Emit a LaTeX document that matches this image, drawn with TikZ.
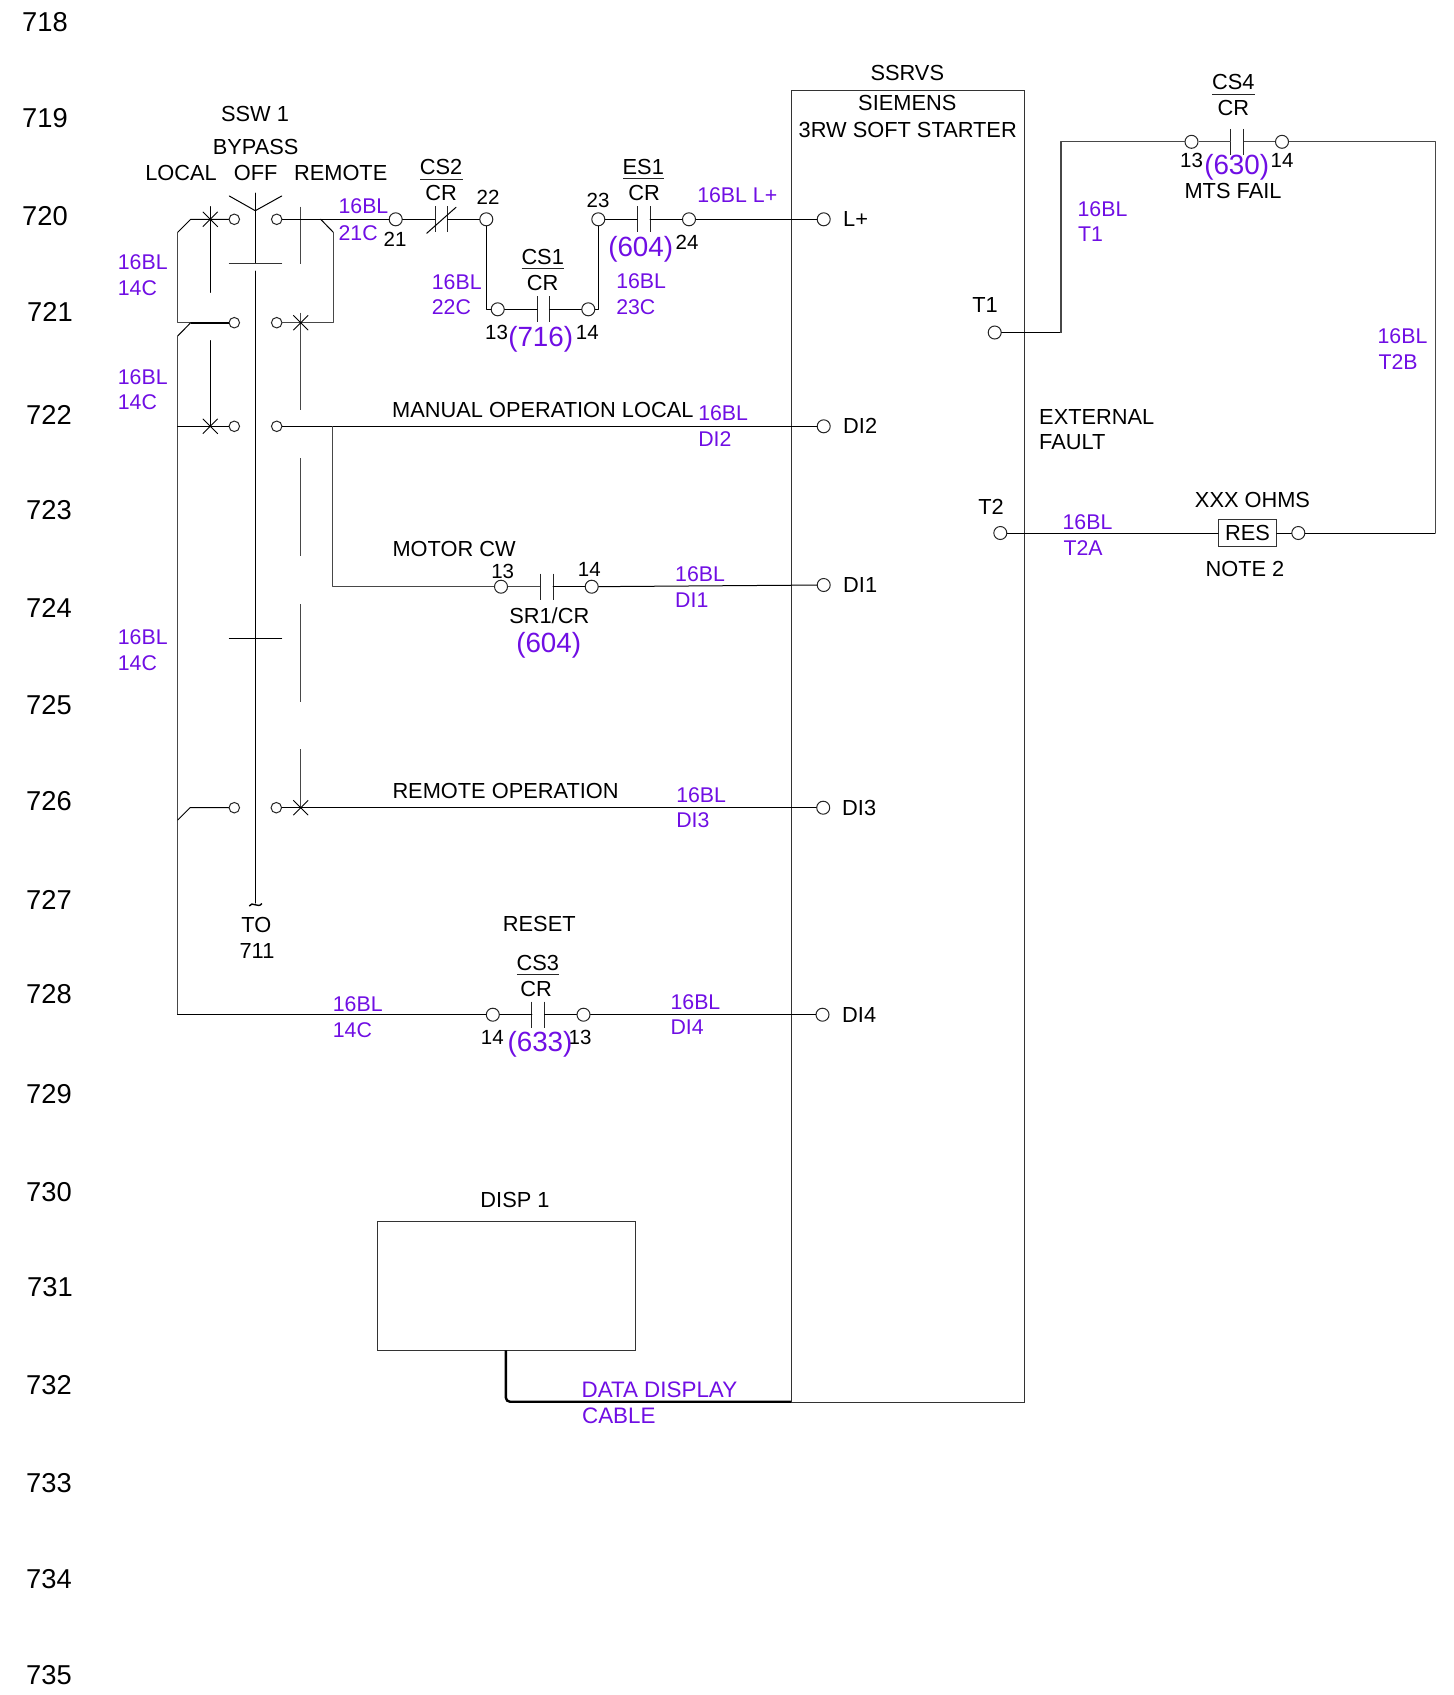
\documentclass[tikz,border=0pt]{standalone}
\usepackage{fontspec}
\setmainfont{Liberation Sans}
\usetikzlibrary{shapes.misc}
\definecolor{wirepurple}{RGB}{112,14,228}
\tikzset{
  wire/.style={line width=1pt,black,line cap=round,line join=round},
  graywire/.style={line width=1.3pt,black!72,line join=round},
  thin bar/.style={line width=1pt,black!85},
  term/.style={circle,draw=black!85,line width=1pt,fill=white,inner sep=0pt,minimum size=10.5pt},
  bigterm/.style={term,minimum size=13pt},
  xmark/.style={cross out,draw=black,line width=.9pt,inner sep=0pt,minimum size=14pt},
  blk/.style={inner sep=0pt,yshift=.1pt,font=\fontsize{21.8}{25}\selectfont,text=black},
  num/.style={inner sep=0pt,yshift=-.2pt,font=\fontsize{20.5}{23}\selectfont,text=black},
  rownum/.style={inner sep=0pt,yshift=0pt,font=\fontsize{27.3}{30}\selectfont,text=black},
  pur/.style={inner sep=0pt,anchor=west,xshift=-.6pt,yshift=-.1pt,font=\fontsize{21.3}{25}\selectfont,text=wirepurple},
  ref/.style={inner sep=0pt,yshift=.2pt,font=\fontsize{27.8}{30}\selectfont,text=wirepurple},
  boxframe/.style={draw=black!80,line width=1.1pt},
}
\newcommand{\contact}[4]{%
  \coordinate (#1-a) at (#2,#4);
  \coordinate (#1-b) at (#3,#4);
  \draw[thin bar] (#2,#4-13) -- (#2,#4+13);
  \draw[thin bar] (#3,#4-13) -- (#3,#4+13);
}
\begin{document}
\begin{tikzpicture}[x=1pt,y=-1pt]
\useasboundingbox (0,0) rectangle (1454,1695);
\fill[white] (0,0) rectangle (1454,1695);

% row numbers
\node[rownum] (r718) at (45,22) {718};
\node[rownum] (r719) at (45,118) {719};
\node[rownum] (r720) at (45,216) {720};
\node[rownum] (r721) at (50,312) {721};
\node[rownum] (r722) at (49,415) {722};
\node[rownum] (r723) at (49,510) {723};
\node[rownum] (r724) at (49,607.5) {724};
\node[rownum] (r725) at (49,705) {725};
\node[rownum] (r726) at (49,801) {726};
\node[rownum] (r727) at (49,899.5) {727};
\node[rownum] (r728) at (49,994.5) {728};
\node[rownum] (r729) at (49,1094) {729};
\node[rownum] (r730) at (49,1192.5) {730};
\node[rownum] (r731) at (50,1287.5) {731};
\node[rownum] (r732) at (49,1385) {732};
\node[rownum] (r733) at (49,1483) {733};
\node[rownum] (r734) at (49,1579) {734};
\node[rownum] (r735) at (49,1675.5) {735};

% soft starter and display boxes
\node[boxframe,inner sep=0pt,minimum width=233pt,minimum height=1311.7pt,anchor=north west] (starter) at (791,90) {};
\node[boxframe,inner sep=0pt,minimum width=258.6pt,minimum height=129.3pt,anchor=north west] (disp) at (376.7,1221) {};

% terminals
\node[term] (s1l) at (234.3,219.3) {};
\node[term] (s2l) at (234.3,322.7) {};
\node[term] (s3l) at (234.3,426.3) {};
\node[term] (s4l) at (234.3,807.7) {};
\node[term] (s1r) at (276.7,219.3) {};
\node[term] (s2r) at (276.7,322.7) {};
\node[term] (s3r) at (276.7,426.3) {};
\node[term] (s4r) at (276.3,807.7) {};

\node[bigterm] (n21) at (395.7,219.3) {};
\node[bigterm] (n22) at (486.3,219.3) {};
\node[bigterm] (n13a) at (497.7,309.3) {};
\node[bigterm] (n14a) at (588.3,309.3) {};
\node[bigterm] (n23) at (598.3,219.3) {};
\node[bigterm] (n24) at (689,219.3) {};
\node[bigterm] (n13b) at (501,586.7) {};
\node[bigterm] (n14b) at (591.7,586.7) {};
\node[bigterm] (n14c) at (492.8,1014.7) {};
\node[bigterm] (n13c) at (583.5,1014.7) {};
\node[bigterm] (n13d) at (1191.5,141.8) {};
\node[bigterm] (n14d) at (1282,141.8) {};
\node[bigterm] (nres) at (1298.3,533) {};
\node[bigterm] (tLp) at (823.7,219.3) {};
\node[bigterm] (tDI2) at (823.7,426.3) {};
\node[bigterm] (tDI1) at (823.7,585) {};
\node[bigterm] (tDI3) at (823.2,807.7) {};
\node[bigterm] (tDI4) at (822.5,1014.7) {};
\node[bigterm] (tT1) at (994.7,332.5) {};
\node[bigterm] (tT2) at (1000.3,533) {};

% resistor
\node[draw=black!80,line width=1.1pt,inner sep=0pt,minimum width=57.6pt,minimum height=26.4pt,font=\fontsize{21.8}{25}\selectfont] (res) at (1247.5,533) {RES};

% selector switch shaft and cams
\coordinate (shA) at (255.3,193);
\coordinate (shB) at (255.3,263.3);
\coordinate (shC) at (255.3,271);
\coordinate (shD) at (255.3,903);
\draw[wire] (shA) -- (shB);
\draw[wire] (shC) -- (shD);
\draw[wire] (229.3,196) -- (255.3,210.7) -- (281.7,196);
\draw[wire,black!80] (229.3,263.3) -- (281.7,263.3);
\draw[wire] (229.3,638.3) -- (281.7,638.3);
\draw[line width=1.4pt,black] (249.3,906) .. controls (252,900.5) and (258,909) .. (262,903.5);

% left dashed contact bars
\draw[wire] (210.3,206.7) -- (210.3,292.3);
\draw[wire] (210.3,340.7) -- (210.3,426.3);
\draw[graywire] (300.7,206.7) -- (300.7,264.3);
\draw[graywire] (300.7,312.7) -- (300.7,410);
\draw[graywire] (300.7,458.3) -- (300.7,555.7);
\draw[graywire] (300.7,604) -- (300.7,701.7);
\draw[graywire] (300.7,749.3) -- (300.7,807.7);

% left bus
\coordinate (la) at (190.7,219.3);
\coordinate (lb) at (177.7,232.3);
\coordinate (lc) at (177.7,322.7);
\coordinate (le) at (190.7,322.7);
\coordinate (ld) at (177.7,336);
\coordinate (lf) at (177.7,426.3);
\coordinate (lg) at (190,807.7);
\coordinate (lh) at (177.7,820);
\coordinate (li) at (177.7,1014.7);
\draw[wire] (s1l) -- (la) -- (lb);
\draw[graywire] (lb) -- (lc) -- (le);
\draw[line width=1.7pt,black] (le) -- (s2l);
\draw[wire] (le) -- (ld);
\draw[graywire] (ld) -- (li);
\draw[wire] (li) -- (n14c);
\draw[wire] (lf) -- (s3l);
\draw[wire] (s4l) -- (lg) -- (lh);

% right bus
\coordinate (ra) at (320.7,219.3);
\coordinate (rb) at (333.3,232.3);
\coordinate (rc) at (333.3,322.7);
\coordinate (rd) at (332.7,426.3);
\coordinate (re) at (332.7,586.7);
\draw[wire] (s1r) -- (n21);
\draw[wire] (ra) -- (rb);
\draw[graywire] (rb) -- (rc) -- (s2r);
\draw[wire] (s3r) -- (tDI2);
\draw[graywire] (rd) -- (re) -- (n13b);
\draw[wire] (s4r) -- (tDI3);

\node[xmark] (x1) at (210.3,219.3) {};
\node[xmark] (x2) at (210.3,426.3) {};
\node[xmark] (x3) at (300.7,322.7) {};
\node[xmark] (x4) at (300.7,807.7) {};

% contacts
\contact{cs2}{435}{447.7}{219.3}
\draw[wire] (426.7,233.3) -- (456,207.3);
\draw[wire] (n21) -- (cs2-a);
\draw[wire] (cs2-b) -- (n22);
\draw[wire] (n22) |- (n13a);

\contact{cs1}{537}{549.7}{309.3}
\draw[wire] (n13a) -- (cs1-a);
\draw[wire] (cs1-b) -- (n14a);
\draw[wire] (n14a) -| (n23);

\contact{es1}{637}{650}{219.3}
\draw[wire] (n23) -- (es1-a);
\draw[wire] (es1-b) -- (n24);
\draw[wire] (n24) -- (tLp);

\contact{sr1}{540}{553}{586.7}
\draw[graywire] (n13b) -- (sr1-a);
\draw[wire] (sr1-b) -- (n14b);
\draw[wire] (n14b) -- (tDI1);

\contact{cs3}{531.8}{544.6}{1014.7}
\draw[wire] (n14c) -- (cs3-a);
\draw[wire] (cs3-b) -- (n13c);
\draw[wire] (n13c) -- (tDI4);

\contact{cs4}{1230.7}{1243.7}{141.8}
\coordinate (tc) at (1061,332.5);
\coordinate (td) at (1061,141.8);
\coordinate (te) at (1435.2,141.8);
\coordinate (tf) at (1435.2,533);
\draw[wire] (tT1.east) -- (tc);
\draw[graywire] (tc) -- (td) -- (n13d);
\draw[graywire] (n13d) -- (cs4-a);
\draw[graywire] (cs4-b) -- (n14d);
\draw[graywire] (n14d) -- (te) -- (tf);
\draw[wire] (tf) -- (nres);
\draw[wire] (nres) -- (res);
\draw[wire] (tT2) -- (res);

% data display cable
\coordinate (cb) at (505.9,1350.3);
\coordinate (ca) at (505.9,1401.7);
\coordinate (cc) at (791,1401.7);
\draw[line width=2.4pt,black,rounded corners=4pt] (cb) -- (ca) -- (cc);

% label underlines
\draw[thin bar] (420,179) -- (462.7,179);
\draw[thin bar] (623.3,178.7) -- (664.3,178.7);
\draw[thin bar] (521.7,268.3) -- (564.3,268.3);
\draw[thin bar] (516.8,974.7) -- (559,974.7);
\draw[thin bar] (1212,94.5) -- (1255,94.5);

% black text
\node[blk] (tssw) at (255,114) {SSW 1};
\node[blk] (tbyp) at (255.7,147) {BYPASS};
\node[blk] (tloc) at (181,172.7) {LOCAL};
\node[blk] (toff) at (255.7,172.7) {OFF};
\node[blk] (trem) at (340.7,172.7) {REMOTE};
\node[blk] (tcs2) at (441,166.7) {CS2};
\node[blk] (tcr2) at (441,192.7) {CR};
\node[blk] (tes1) at (643.3,166.7) {ES1};
\node[blk] (tcre) at (644,192.7) {CR};
\node[blk] (tcs1) at (542.7,256.7) {CS1};
\node[blk] (tcr1) at (542.7,282.7) {CR};
\node[blk] (tcs3) at (537.8,962.7) {CS3};
\node[blk] (tcr3) at (536,988.7) {CR};
\node[blk] (tcs4) at (1233.3,82.3) {CS4};
\node[blk] (tcr4) at (1233.3,108.3) {CR};
\node[blk] (tsrv) at (907.3,73.3) {SSRVS};
\node[blk] (tsie) at (907.3,103.3) {SIEMENS};
\node[blk] (t3rw) at (907.7,130) {3RW SOFT STARTER};
\node[blk,anchor=west] (tman) at (392,410) {MANUAL OPERATION LOCAL};
\node[blk,anchor=west] (tmot) at (392.3,549) {MOTOR CW};
\node[blk,anchor=west] (trop) at (392.3,791.3) {REMOTE OPERATION};
\node[blk] (tsr1) at (549.3,615.3) {SR1/CR};
\node[blk] (tto) at (256.3,925) {TO};
\node[blk] (t711) at (257,951) {711};
\node[blk] (trst) at (539.3,924) {RESET};
\node[blk] (tdsp) at (515,1200) {DISP 1};
\node[blk,anchor=west] (lLp) at (843,219.3) {L+};
\node[blk,anchor=west] (lDI2) at (843,426) {DI2};
\node[blk,anchor=west] (lDI1) at (843,585) {DI1};
\node[blk,anchor=west] (lDI3) at (842,807.7) {DI3};
\node[blk,anchor=west] (lDI4) at (842,1015) {DI4};
\node[blk] (lT1) at (985,304.6) {T1};
\node[blk] (lT2) at (991,506.6) {T2};
\node[blk] (tmts) at (1233,191) {MTS FAIL};
\node[blk,anchor=west] (text) at (1039,417.4) {EXTERNAL};
\node[blk,anchor=west] (tfau) at (1039,442) {FAULT};
\node[blk] (txxx) at (1252.5,500) {XXX OHMS};
\node[blk] (tnot) at (1245,569) {NOTE 2};

% terminal numbers
\node[num] (m21) at (395,238.7) {21};
\node[num] (m22) at (488,197.5) {22};
\node[num] (m13a) at (496.5,332) {13};
\node[num] (m14a) at (587.3,332) {14};
\node[num] (m23) at (598,200.7) {23};
\node[num] (m24) at (687,242.3) {24};
\node[num] (m13b) at (502.7,571.7) {13};
\node[num] (m14b) at (589.3,569.7) {14};
\node[num] (m14c) at (492.3,1037.7) {14};
\node[num] (m13c) at (580,1037.7) {13};
\node[num] (m13d) at (1191.5,160.7) {13};
\node[num] (m14d) at (1282,160.7) {14};

% purple wire numbers
\node[pur] (p1) at (339,206.3) {16BL};
\node[pur] (p2) at (339,232.7) {21C};
\node[pur] (p3) at (118.3,262.3) {16BL};
\node[pur] (p4) at (118.3,288.3) {14C};
\node[pur] (p5) at (118.3,376.7) {16BL};
\node[pur] (p6) at (118.3,402.3) {14C};
\node[pur] (p7) at (432.3,281.7) {16BL};
\node[pur] (p8) at (432.3,307.3) {22C};
\node[pur] (p9) at (616.7,281.3) {16BL};
\node[pur] (p10) at (616.7,307) {23C};
\node[pur] (p11) at (697.7,195.3) {16BL L+};
\node[pur] (p12) at (698.7,413.3) {16BL};
\node[pur] (p13) at (698.7,439) {DI2};
\node[pur] (p14) at (675.6,574) {16BL};
\node[pur] (p15) at (675.6,600) {DI1};
\node[pur] (p16) at (118.3,636.7) {16BL};
\node[pur] (p17) at (118.3,662.7) {14C};
\node[pur] (p18) at (676.7,794.6) {16BL};
\node[pur] (p19) at (676.7,820.5) {DI3};
\node[pur] (p20) at (333.3,1004.3) {16BL};
\node[pur] (p21) at (333.3,1030) {14C};
\node[pur] (p22) at (671,1001.7) {16BL};
\node[pur] (p23) at (671,1027.3) {DI4};
\node[pur,font=\fontsize{22.4}{25}\selectfont] (p24) at (582,1389.3) {DATA DISPLAY};
\node[pur,font=\fontsize{22.4}{25}\selectfont] (p25) at (582.5,1415.7) {CABLE};
\node[pur] (p26) at (1078,208.6) {16BL};
\node[pur] (p27) at (1078.5,234) {T1};
\node[pur] (p28) at (1378,335.7) {16BL};
\node[pur] (p29) at (1379,361.7) {T2B};
\node[pur] (p30) at (1063,521.8) {16BL};
\node[pur] (p31) at (1064,548.2) {T2A};

% purple sheet references
\node[ref] (f604a) at (640.7,249) {(604)};
\node[ref] (f716) at (540.7,339) {(716)};
\node[ref] (f604b) at (548.7,645.5) {(604)};
\node[ref] (f633) at (540,1044) {(633)};
\node[ref] (f630) at (1236.7,168) {(630)};
\end{tikzpicture}
\end{document}
